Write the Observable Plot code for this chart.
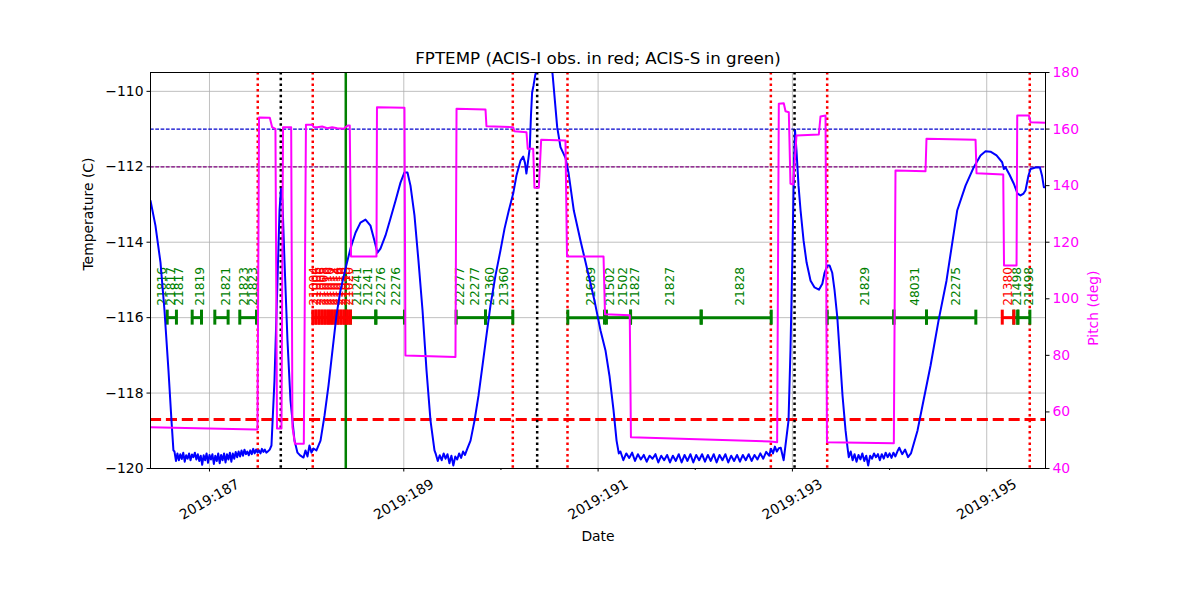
<!DOCTYPE html>
<html><head><meta charset="utf-8">
<script src="https://cdn.jsdelivr.net/npm/d3@7"></script>
<script src="https://cdn.jsdelivr.net/npm/@observablehq/plot@0.6"></script>
<style>
html,body{margin:0;padding:0;background:#fff;}
#wrap{position:relative;width:1200px;height:600px;overflow:hidden;}
#wrap svg{position:absolute;left:0;top:0;}
</style></head><body><div id="wrap"></div>
<script>
// ---------------- data ----------------
const titleText = "FPTEMP (ACIS-I obs. in red; ACIS-S in green)";
const majorDays = [187, 189, 191, 193, 195];
const minorDays = [188, 190, 192, 194];
const tempTicks = [-120, -118, -116, -114, -112, -110];
const pitchTicks = [40, 60, 80, 100, 120, 140, 160, 180];
const limitBlue = -111, limitPurple = -112, limitRed = -118.7, obsLevel = -116;
const redDotDays = [187.497, 188.063, 190.122, 190.685, 192.778, 193.358, 195.443];
const blackDotDays = [187.734, 190.373, 193.022];
const greenLineDays = [188.403];

// ACIS-S observations [start, stop]
const greenObs = [[186.565,186.660],[186.822,186.918],[187.055,187.192],[187.312,187.484],
  [188.451,188.712],[188.712,189.007],[189.539,189.841],[189.841,190.122],
  [190.688,191.066],[191.086,191.334],[191.334,192.061],[192.061,192.782],
  [193.358,194.044],[194.044,194.380],[194.380,194.888],[195.279,195.320],[195.320,195.444]];
// ACIS-I observations [start, stop]
const redObs = [[188.063,188.095],[188.095,188.128],[188.128,188.160],[188.160,188.192],
  [188.192,188.225],[188.225,188.257],[188.257,188.289],[188.289,188.322],
  [188.322,188.354],[188.354,188.386],[188.386,188.419],[188.419,188.451],[195.160,195.279]];
const greenLabelDays = [186.513,186.606,186.691,186.907,187.175,187.360,187.453,
  188.523,188.637,188.770,188.925,189.584,189.738,189.892,190.037,
  190.929,191.128,191.262,191.385,191.745,192.466,193.752,194.267,194.689,195.317,195.440];
const greenLabelIds = ["21816","21817","21817","21819","21821","21823","21823",
  "21241","21241","22276","22276","22277","22277","21360","21360",
  "21689","21502","21502","21827","21827","21828","21829","48031","22275","21498","21498"];
const redLabelDays = [188.079,188.111,188.144,188.176,188.208,188.241,188.273,188.305,188.338,188.370,188.402,188.435,195.224];
const redLabelIds = ["21004","21006","21006","21008","21010","21010","21012","21014","21016","21016","21018","21020","21380"];

// FPTEMP [day, degC]
const tempPoints = [
[186.393,-112.90],[186.444,-113.56],[186.496,-114.54],[186.537,-115.81],[186.578,-117.40],[186.609,-118.73],[186.629,-119.52],
[186.640,-119.55],[186.655,-119.80],[186.670,-119.60],[186.685,-119.78],[186.700,-119.62],[186.715,-119.75],[186.730,-119.58],
[186.745,-119.82],[186.760,-119.65],[186.775,-119.74],[186.790,-119.60],[186.805,-119.78],[186.820,-119.63],[186.835,-119.70],
[186.850,-119.58],[186.865,-119.76],[186.880,-119.62],[186.895,-119.80],[186.910,-119.66],[186.925,-119.90],[186.940,-119.65],
[186.955,-119.78],[186.970,-119.60],[186.985,-119.85],[187.000,-119.64],[187.015,-119.76],[187.030,-119.62],[187.045,-119.88],
[187.060,-119.66],[187.075,-119.80],[187.090,-119.60],[187.105,-119.86],[187.120,-119.64],[187.135,-119.78],[187.150,-119.60],
[187.165,-119.84],[187.180,-119.62],[187.195,-119.76],[187.210,-119.58],[187.225,-119.82],[187.240,-119.60],[187.255,-119.74],
[187.270,-119.56],[187.285,-119.70],[187.300,-119.55],[187.315,-119.68],[187.330,-119.52],[187.345,-119.66],[187.360,-119.50],
[187.375,-119.62],[187.390,-119.55],[187.405,-119.65],[187.420,-119.52],[187.435,-119.62],[187.450,-119.48],[187.465,-119.60],
[187.480,-119.50],[187.495,-119.58],[187.510,-119.52],[187.525,-119.60],[187.540,-119.48],[187.555,-119.56],[187.570,-119.50],
[187.585,-119.58],[187.600,-119.55],[187.620,-119.50],
[187.638,-119.39],[187.669,-117.67],[187.700,-115.02],[187.721,-113.16],[187.736,-112.58],[187.751,-112.90],[187.772,-114.49],
[187.803,-116.61],[187.834,-118.20],[187.875,-119.26],[187.906,-119.58],
[187.937,-119.66],[187.968,-119.71],[187.988,-119.52],[188.009,-119.68],[188.029,-119.39],[188.050,-119.58],[188.070,-119.47],[188.101,-119.52],
[188.143,-119.26],[188.184,-118.60],[188.225,-117.80],[188.266,-116.87],[188.307,-115.94],[188.348,-115.28],[188.400,-114.70],
[188.451,-114.17],[188.503,-113.75],[188.554,-113.48],[188.606,-113.40],[188.657,-113.56],[188.698,-113.96],[188.729,-114.28],
[188.760,-114.17],[188.812,-113.82],[188.863,-113.37],[188.915,-112.90],[188.966,-112.42],[189.007,-112.15],[189.038,-112.15],
[189.069,-112.50],[189.110,-113.29],[189.151,-114.49],[189.193,-115.81],[189.234,-117.40],[189.275,-118.73],[189.316,-119.52],
[189.330,-119.62],[189.350,-119.80],[189.370,-119.65],[189.390,-119.78],[189.410,-119.60],[189.430,-119.74],[189.450,-119.62],
[189.470,-119.86],[189.490,-119.66],[189.510,-119.92],[189.530,-119.68],[189.550,-119.76],[189.570,-119.60],[189.590,-119.72],
[189.610,-119.55],[189.630,-119.64],[189.650,-119.50],
[189.687,-119.26],[189.728,-118.73],[189.769,-118.07],[189.810,-117.27],[189.851,-116.47],[189.892,-115.68],[189.944,-114.88],
[189.995,-114.22],[190.037,-113.64],[190.081,-113.16],[190.126,-112.71],[190.160,-112.23],[190.201,-111.84],[190.229,-111.73],
[190.247,-111.89],[190.262,-112.18],[190.283,-111.78],[190.297,-111.48],[190.309,-110.64],[190.321,-110.03],[190.335,-109.85],
[190.356,-109.53],[190.371,-109.24],[190.407,-108.92],[190.459,-108.79],[190.510,-109.32],[190.531,-109.53],
[190.579,-110.95],[190.613,-111.48],[190.644,-111.65],[190.664,-111.76],[190.695,-112.15],[190.750,-113.16],[190.819,-113.96],
[190.891,-114.75],[190.963,-115.55],[191.025,-116.34],[191.076,-116.87],[191.117,-117.54],[191.159,-118.46],[191.190,-119.26],[191.213,-119.60],
[191.23,-119.55],[191.26,-119.78],[191.29,-119.60],[191.32,-119.72],[191.35,-119.58],[191.38,-119.80],[191.41,-119.62],
[191.44,-119.76],[191.47,-119.64],[191.50,-119.82],[191.53,-119.66],[191.56,-119.74],[191.59,-119.62],[191.62,-119.84],
[191.65,-119.66],[191.68,-119.78],[191.71,-119.64],[191.74,-119.84],[191.77,-119.66],[191.80,-119.80],[191.83,-119.62],
[191.86,-119.84],[191.89,-119.64],[191.92,-119.80],[191.95,-119.62],[191.98,-119.84],[192.01,-119.64],[192.04,-119.78],
[192.07,-119.62],[192.10,-119.82],[192.13,-119.64],[192.16,-119.80],[192.19,-119.62],[192.22,-119.84],[192.25,-119.64],
[192.28,-119.78],[192.31,-119.62],[192.34,-119.84],[192.37,-119.66],[192.40,-119.80],[192.43,-119.64],[192.46,-119.82],
[192.49,-119.64],[192.52,-119.78],[192.55,-119.62],[192.58,-119.80],[192.61,-119.64],[192.64,-119.76],[192.67,-119.60],
[192.70,-119.74],[192.73,-119.56],[192.76,-119.66],[192.78,-119.48],[192.80,-119.60],[192.82,-119.42],[192.84,-119.55],
[192.86,-119.46],[192.88,-119.45],[192.91,-119.78],
[192.960,-118.73],[192.980,-116.87],[193.001,-114.22],[193.017,-111.84],[193.027,-111.04],[193.042,-111.57],[193.063,-112.50],
[193.084,-113.16],[193.115,-113.96],[193.146,-114.54],[193.187,-115.02],[193.228,-115.20],[193.273,-115.26],[193.308,-115.10],
[193.331,-114.81],[193.359,-114.62],[193.383,-114.62],[193.410,-114.81],[193.434,-115.28],[193.462,-115.99],[193.485,-116.87],
[193.516,-118.07],[193.547,-118.99],[193.567,-119.44],
[193.58,-119.70],[193.60,-119.55],[193.62,-119.78],[193.64,-119.62],[193.66,-119.82],[193.68,-119.64],[193.70,-119.76],
[193.72,-119.60],[193.74,-119.80],[193.76,-119.66],[193.78,-119.92],[193.80,-119.66],[193.82,-119.74],[193.84,-119.60],
[193.86,-119.70],[193.88,-119.62],[193.90,-119.78],[193.92,-119.62],[193.94,-119.74],[193.96,-119.58],[193.98,-119.70],
[194.00,-119.60],[194.02,-119.72],[194.04,-119.58],[194.06,-119.68],[194.08,-119.55],[194.10,-119.45],[194.13,-119.62],
[194.16,-119.50],[194.19,-119.70],[194.22,-119.60],
[194.288,-118.99],[194.339,-118.33],[194.422,-117.27],[194.504,-116.08],[194.586,-115.02],[194.696,-113.16],[194.782,-112.50],
[194.867,-112.01],[194.936,-111.70],[194.988,-111.59],[195.039,-111.60],[195.101,-111.70],[195.159,-111.88],[195.176,-112.06],
[195.193,-112.01],[195.235,-112.21],[195.279,-112.45],[195.317,-112.71],[195.348,-112.76],[195.379,-112.71],[195.399,-112.63],
[195.430,-112.23],[195.451,-112.06],[195.502,-112.02],[195.547,-112.01],[195.569,-112.23],[195.588,-112.54],[195.605,-112.54]
];

// Pitch [day, deg]
const pitchPoints = [
[186.393,54.60],[187.494,53.79],[187.510,164.09],[187.621,163.98],[187.645,160.66],[187.679,160.09],[187.695,54.14],
[187.741,54.14],[187.757,160.66],[187.841,160.66],[187.854,54.60],[187.880,48.73],[187.971,48.73],[187.993,161.51],
[188.057,161.51],[188.074,160.66],[188.109,160.66],[188.160,160.91],[188.212,160.31],[188.263,160.66],[188.314,160.31],
[188.382,160.09],[188.424,161.26],[188.444,161.26],[188.457,114.95],[188.719,114.95],[188.724,167.73],[189.007,167.52],
[189.017,79.95],[189.532,79.42],[189.543,167.17],[189.841,166.92],[189.851,161.01],[190.126,160.66],[190.139,159.25],
[190.263,158.89],[190.276,153.02],[190.332,153.02],[190.345,139.24],[190.390,139.24],[190.414,156.21],[190.664,155.96],
[190.680,114.95],[191.056,114.95],[191.071,94.55],[191.326,94.20],[191.338,51.07],[192.775,49.55],[192.843,49.30],
[192.860,168.93],[192.911,169.14],[192.929,166.32],[192.963,165.96],[192.980,140.65],[193.008,140.40],[193.042,157.73],
[193.272,158.08],[193.289,164.44],[193.341,164.80],[193.356,49.30],[194.044,48.94],[194.061,145.35],[194.370,145.10],
[194.380,156.56],[194.885,156.21],[194.895,144.40],[195.170,143.94],[195.178,111.77],[195.307,111.77],[195.314,164.80],
[195.434,164.80],[195.451,162.43],[195.605,162.22]
];

// ---------------- chart ----------------
const W = 1200, H = 600;
const M = {marginTop: 72, marginRight: 155, marginBottom: 132, marginLeft: 150};
const xDomain = [186.393, 195.605];
const FONT = "DejaVu Sans";
const grid = "#b0b0b0";

const greenLabels = greenLabelDays.map((t, i) => ({t, id: greenLabelIds[i]}));
const redLabels = redLabelDays.map((t, i) => ({t, id: redLabelIds[i]}));
const greenCaps = greenObs.flat();
const redCaps = redObs.flat();

const tempPlot = Plot.plot({
  width: W, height: H, ...M,
  x: {domain: xDomain, axis: null},
  y: {domain: [-120, -109.5], axis: null},
  style: {background: "white", fontFamily: FONT, overflow: "visible"},
  marks: [
    Plot.ruleX(majorDays, {x: d => d, stroke: grid, strokeWidth: 0.8}),
    Plot.ruleY(tempTicks, {y: d => d, stroke: grid, strokeWidth: 0.8}),
    Plot.ruleY([limitBlue], {y: d => d, stroke: "#0000cc", strokeWidth: 1.2, strokeDasharray: "3.7,1.6"}),
    Plot.ruleY([limitPurple], {y: d => d, stroke: "purple", strokeWidth: 1.2, strokeDasharray: "3.7,1.6"}),
    Plot.ruleY([limitRed], {y: d => d, stroke: "red", strokeWidth: 3, strokeDasharray: "11.1,4.8"}),
    Plot.ruleX(redDotDays, {x: d => d, stroke: "red", strokeWidth: 2.5, strokeDasharray: "2.5,3.2"}),
    Plot.ruleX(blackDotDays, {x: d => d, stroke: "black", strokeWidth: 2.5, strokeDasharray: "2.5,3.2"}),
    Plot.ruleX(greenLineDays, {x: d => d, stroke: "green", strokeWidth: 2.5}),
    Plot.ruleY(greenObs, {y: () => obsLevel, x1: d => d[0], x2: d => d[1], stroke: "green", strokeWidth: 3}),
    Plot.ruleX(greenCaps, {x: d => d, y1: () => obsLevel, y2: () => obsLevel, insetTop: -7.5, insetBottom: -7.5, stroke: "green", strokeWidth: 3}),
    Plot.ruleY(redObs, {y: () => obsLevel, x1: d => d[0], x2: d => d[1], stroke: "red", strokeWidth: 3}),
    Plot.ruleX(redCaps, {x: d => d, y1: () => obsLevel, y2: () => obsLevel, insetTop: -7.5, insetBottom: -7.5, stroke: "red", strokeWidth: 3}),
    Plot.text(greenLabels, {x: "t", y: () => obsLevel, text: "id", rotate: -90, textAnchor: "start", dy: -12, fill: "green", fontSize: 12.2}),
    Plot.text(redLabels, {x: "t", y: () => obsLevel, text: "id", rotate: -90, textAnchor: "start", dy: -12, fill: "red", fontSize: 12.2}),
    Plot.line(tempPoints, {x: d => d[0], y: d => d[1], stroke: "blue", strokeWidth: 2, clip: true}),
    Plot.axisY({anchor: "left", ticks: tempTicks, tickSize: 3.5, tickPadding: 3.5, fontSize: 13.9, label: null, tickFormat: d3.format("d")}),
    Plot.axisX({ticks: majorDays, tickSize: 3.5, fill: "none", label: null}),
    Plot.axisX({ticks: minorDays, tickSize: 2, fill: "none", label: null}),
    Plot.text(majorDays, {x: d => d, frameAnchor: "bottom", text: d => `2019:${d}`, rotate: -30, dy: 31, fontSize: 13.9, textAnchor: "middle", lineAnchor: "middle"}),
    Plot.text([titleText], {frameAnchor: "top", text: d => d, dy: -14, fontSize: 16.7, lineAnchor: "middle"}),
    Plot.text(["Temperature (C)"], {frameAnchor: "left", text: d => d, dx: -62, rotate: -90, fontSize: 13.9, lineAnchor: "middle"}),
    Plot.text(["Date"], {frameAnchor: "bottom", text: d => d, dy: 68, fontSize: 13.9, lineAnchor: "middle"})
  ]
});

const pitchPlot = Plot.plot({
  width: W, height: H, ...M,
  x: {domain: xDomain, axis: null},
  y: {domain: [40, 180], axis: null},
  style: {background: "transparent", fontFamily: FONT, overflow: "visible"},
  marks: [
    Plot.line(pitchPoints, {x: d => d[0], y: d => d[1], stroke: "magenta", strokeWidth: 2, clip: true}),
    Plot.frame({stroke: "black", strokeWidth: 1}),
    Plot.axisY({anchor: "right", ticks: pitchTicks, tickSize: 3.5, fill: "none", label: null}),
    Plot.axisY({anchor: "right", ticks: pitchTicks, tickSize: 0, tickPadding: 7, fill: "magenta", fontSize: 13.9, label: null, tickFormat: d3.format("d")}),
    Plot.text(["Pitch (deg)"], {frameAnchor: "right", text: d => d, dx: 48, rotate: -90, fill: "magenta", fontSize: 13.9, lineAnchor: "middle"})
  ]
});

const wrap = document.getElementById("wrap");
wrap.appendChild(tempPlot);
wrap.appendChild(pitchPlot);
</script>
</body></html>
